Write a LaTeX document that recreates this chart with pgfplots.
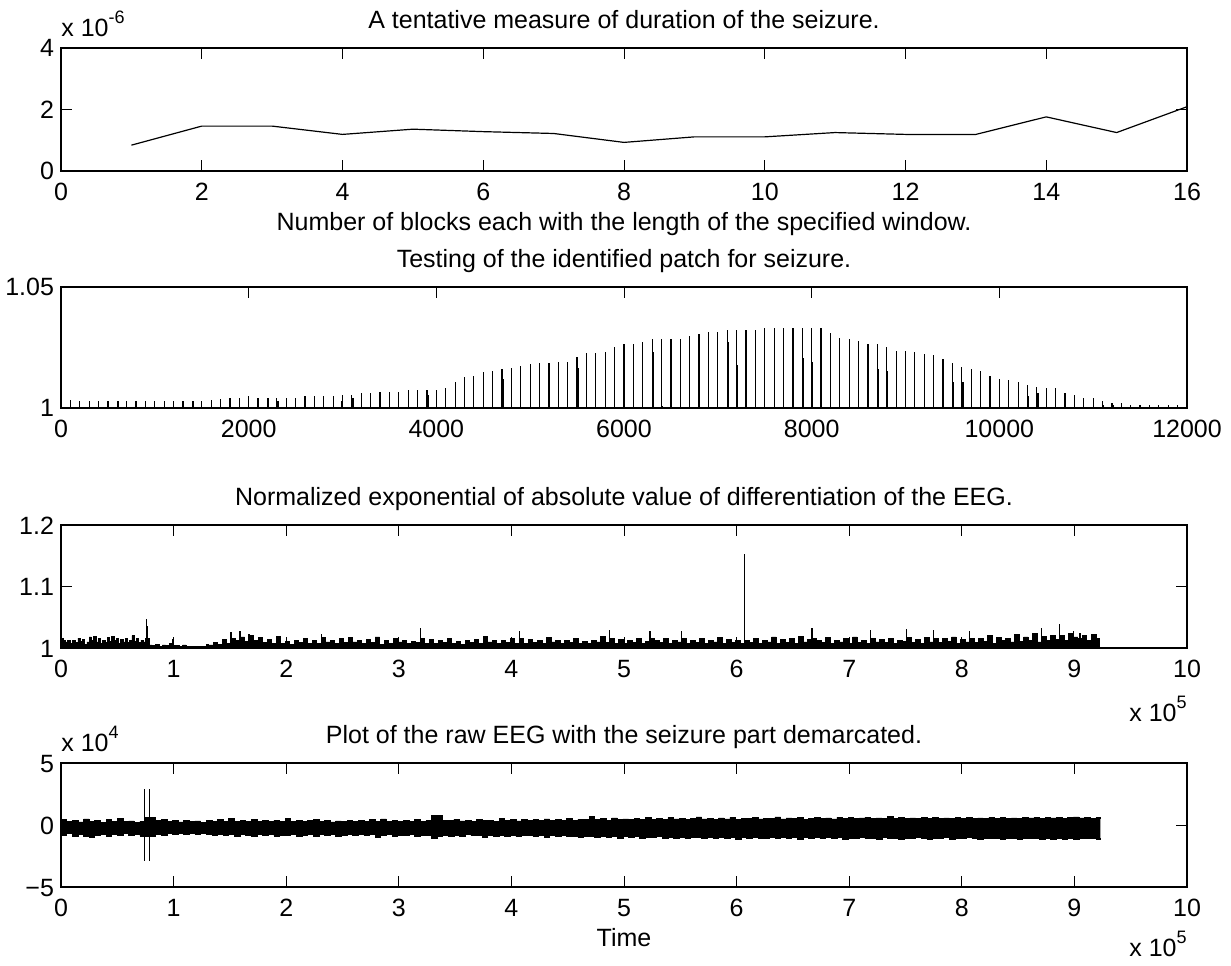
\documentclass[border=0pt]{standalone}
\usepackage{fontspec}
\setmainfont{Liberation Sans}
\usepackage{pgfplots}
\usepackage{pgfplotstable}
\pgfplotsset{compat=1.18}
\usepgfplotslibrary{fillbetween}

\newcommand{\lbl}{\fontsize{12.5}{14}\selectfont}
\newcommand{\sups}[1]{\raisebox{1.0ex}{\fontsize{9}{9}\selectfont #1}}

\pgfplotstableread{
x u lo
0.00 0.45 -0.85
0.05 0.30 -0.70
0.10 0.38 -0.92
0.15 0.25 -0.75
0.20 0.50 -0.88
0.25 0.28 -1.02
0.30 0.35 -0.80
0.35 0.22 -0.72
0.40 0.42 -0.90
0.45 0.30 -0.78
0.50 0.55 -0.85
0.55 0.27 -0.70
0.60 0.33 -0.82
0.65 0.24 -0.76
0.70 0.31 -0.88
0.74 0.60 -0.95
0.79 0.62 -0.90
0.84 0.35 -0.72
0.89 0.48 -0.80
0.94 0.30 -0.68
0.99 0.36 -0.74
1.04 0.25 -0.66
1.09 0.40 -0.78
1.14 0.28 -0.70
1.19 0.33 -0.75
1.24 0.22 -0.64
1.29 0.38 -0.72
1.34 0.30 -0.80
1.39 0.45 -0.76
1.44 0.32 -0.85
1.49 0.52 -0.78
1.54 0.30 -0.90
1.59 0.36 -0.74
1.64 0.28 -0.82
1.69 0.42 -0.95
1.74 0.30 -0.78
1.79 0.35 -0.84
1.84 0.26 -0.72
1.89 0.40 -0.88
1.94 0.31 -0.79
1.99 0.55 -0.86
2.04 0.29 -0.75
2.09 0.38 -0.92
2.14 0.27 -0.80
2.19 0.34 -0.76
2.24 0.45 -0.88
2.29 0.30 -0.74
2.34 0.36 -0.82
2.39 0.25 -0.78
2.44 0.33 -0.95
2.49 0.28 -0.80
2.54 0.40 -0.76
2.59 0.30 -0.86
2.64 0.35 -0.73
2.69 0.27 -0.84
2.74 0.42 -0.78
2.79 0.31 -0.98
2.84 0.50 -0.82
2.89 0.29 -0.75
2.94 0.34 -0.88
2.99 0.26 -0.79
3.04 0.38 -0.84
3.09 0.30 -0.76
3.14 0.44 -0.90
3.19 0.32 -0.80
3.24 0.36 -0.86
3.29 0.80 -1.05
3.34 0.75 -0.95
3.39 0.40 -0.84
3.44 0.35 -0.88
3.49 0.48 -0.80
3.54 0.33 -0.92
3.59 0.38 -0.78
3.64 0.30 -0.86
3.69 0.45 -0.82
3.74 0.34 -0.96
3.79 0.40 -0.80
3.84 0.31 -0.88
3.89 0.52 -0.84
3.94 0.36 -0.90
3.99 0.42 -0.82
4.04 0.33 -0.94
4.09 0.47 -0.85
4.14 0.38 -0.80
4.19 0.43 -0.92
4.24 0.35 -0.86
4.29 0.50 -0.98
4.34 0.37 -0.84
4.39 0.44 -0.90
4.44 0.40 -0.86
4.49 0.55 -0.95
4.54 0.38 -0.88
4.59 0.48 -1.00
4.64 0.42 -0.90
4.69 0.70 -0.95
4.74 0.45 -1.02
4.79 0.52 -0.92
4.84 0.40 -0.98
4.89 0.58 -0.90
4.94 0.44 -1.05
4.99 0.50 -0.95
5.04 0.46 -1.00
5.09 0.55 -0.94
5.14 0.48 -1.08
5.19 0.62 -0.96
5.24 0.45 -1.02
5.29 0.53 -0.95
5.34 0.47 -1.06
5.39 0.60 -0.98
5.44 0.49 -1.04
5.49 0.56 -0.96
5.54 0.46 -1.10
5.59 0.52 -1.00
5.64 0.66 -0.97
5.69 0.50 -1.05
5.74 0.55 -0.98
5.79 0.47 -1.08
5.84 0.58 -1.00
5.89 0.50 -1.04
5.94 0.62 -0.97
5.99 0.48 -1.12
6.04 0.54 -1.00
6.09 0.51 -1.06
6.14 0.60 -0.98
6.19 0.49 -1.05
6.24 0.56 -1.10
6.29 0.52 -1.00
6.34 0.65 -1.04
6.39 0.50 -0.98
6.44 0.57 -1.08
6.49 0.53 -1.02
6.54 0.62 -1.15
6.59 0.48 -1.00
6.64 0.55 -1.06
6.69 0.60 -0.99
6.74 0.52 -1.10
6.79 0.58 -1.03
6.84 0.50 -1.08
6.89 0.64 -1.00
6.94 0.54 -1.12
6.99 0.59 -1.04
7.04 0.51 -1.08
7.09 0.57 -1.00
7.14 0.62 -1.10
7.19 0.53 -1.05
7.24 0.58 -1.14
7.29 0.52 -1.02
7.34 0.70 -1.08
7.39 0.56 -1.04
7.44 0.60 -1.12
7.49 0.54 -1.05
7.54 0.58 -1.10
7.59 0.52 -1.02
7.64 0.63 -1.08
7.69 0.55 -1.15
7.74 0.60 -1.04
7.79 0.53 -1.09
7.84 0.57 -1.02
7.89 0.52 -1.12
7.94 0.62 -1.05
7.99 0.55 -1.10
8.04 0.59 -1.03
8.09 0.54 -1.08
8.14 0.58 -1.14
8.19 0.52 -1.04
8.24 0.64 -1.10
8.29 0.56 -1.06
8.34 0.60 -1.12
8.39 0.53 -1.04
8.44 0.58 -1.09
8.49 0.55 -1.15
8.54 0.62 -1.05
8.59 0.57 -1.10
8.64 0.60 -1.06
8.69 0.54 -1.12
8.74 0.63 -1.08
8.79 0.58 -1.14
8.84 0.61 -1.06
8.89 0.55 -1.16
8.94 0.60 -1.08
8.99 0.65 -1.12
9.04 0.57 -1.06
9.09 0.62 -1.10
9.14 0.56 -1.08
9.19 0.60 -1.12
9.23 0.55 -1.05
}\eeg

\pgfplotstableread{
x y
0.00 1.016
0.02 1.013
0.04 1.010
0.06 1.013
0.08 1.008
0.10 1.012
0.13 1.009
0.15 1.016
0.17 1.011
0.19 1.014
0.21 1.006
0.23 1.010
0.25 1.018
0.27 1.012
0.29 1.019
0.31 1.010
0.33 1.015
0.35 1.008
0.37 1.013
0.39 1.009
0.41 1.017
0.43 1.011
0.45 1.019
0.47 1.012
0.49 1.015
0.51 1.008
0.53 1.014
0.55 1.010
0.57 1.016
0.59 1.009
0.61 1.012
0.63 1.020
0.65 1.011
0.67 1.015
0.69 1.009
0.71 1.013
0.73 1.010
0.75 1.016
0.78 1.005
0.81 1.004
0.84 1.006
0.87 1.003
0.90 1.005
0.93 1.004
0.96 1.007
0.99 1.004
1.02 1.004
1.05 1.003
1.08 1.005
1.11 1.002
1.14 1.003
1.17 1.002
1.20 1.003
1.23 1.002
1.26 1.003
1.29 1.006
1.31 1.005
1.35 1.009
1.39 1.006
1.43 1.014
1.47 1.008
1.51 1.016
1.55 1.012
1.59 1.018
1.63 1.011
1.67 1.020
1.71 1.013
1.75 1.017
1.79 1.009
1.83 1.014
1.87 1.008
1.91 1.019
1.95 1.007
1.99 1.011
2.03 1.006
2.07 1.013
2.11 1.009
2.15 1.016
2.19 1.008
2.23 1.012
2.27 1.007
2.31 1.017
2.35 1.010
2.39 1.013
2.43 1.008
2.47 1.015
2.51 1.009
2.55 1.017
2.59 1.010
2.63 1.012
2.67 1.007
2.71 1.014
2.75 1.009
2.79 1.018
2.83 1.006
2.87 1.012
2.91 1.008
2.95 1.015
2.99 1.010
3.03 1.013
3.07 1.007
3.11 1.011
3.15 1.009
3.19 1.016
3.23 1.008
3.27 1.014
3.31 1.007
3.35 1.013
3.39 1.009
3.43 1.016
3.47 1.008
3.51 1.011
3.55 1.006
3.59 1.012
3.63 1.009
3.67 1.014
3.71 1.008
3.75 1.019
3.79 1.010
3.83 1.013
3.87 1.007
3.91 1.012
3.95 1.009
3.99 1.015
4.03 1.008
4.07 1.016
4.11 1.007
4.15 1.014
4.19 1.009
4.23 1.012
4.27 1.008
4.31 1.017
4.35 1.010
4.39 1.013
4.43 1.007
4.47 1.012
4.51 1.009
4.55 1.015
4.59 1.008
4.63 1.011
4.67 1.007
4.71 1.013
4.75 1.010
4.79 1.019
4.83 1.009
4.87 1.015
4.91 1.008
4.95 1.014
4.99 1.007
5.03 1.012
5.07 1.009
5.11 1.016
5.15 1.008
5.19 1.011
5.23 1.015
5.27 1.013
5.31 1.009
5.35 1.015
5.39 1.008
5.43 1.012
5.47 1.010
5.51 1.016
5.55 1.007
5.59 1.013
5.63 1.009
5.67 1.016
5.71 1.008
5.75 1.012
5.79 1.010
5.83 1.017
5.87 1.007
5.91 1.014
5.95 1.009
5.99 1.013
6.03 1.008
6.07 1.012
6.11 1.009
6.15 1.016
6.19 1.008
6.23 1.013
6.27 1.010
6.31 1.018
6.35 1.007
6.39 1.014
6.43 1.009
6.47 1.015
6.51 1.008
6.55 1.019
6.59 1.010
6.63 1.014
6.67 1.016
6.71 1.012
6.75 1.009
6.79 1.017
6.83 1.008
6.87 1.013
6.91 1.010
6.95 1.015
6.99 1.008
7.03 1.018
7.07 1.009
7.11 1.013
7.15 1.007
7.19 1.016
7.23 1.010
7.27 1.014
7.31 1.009
7.35 1.016
7.39 1.008
7.43 1.013
7.47 1.011
7.51 1.017
7.55 1.009
7.59 1.014
7.63 1.008
7.67 1.017
7.71 1.010
7.75 1.016
7.79 1.009
7.83 1.015
7.87 1.011
7.91 1.018
7.95 1.008
7.99 1.014
8.03 1.010
8.07 1.016
8.11 1.009
8.15 1.016
8.19 1.011
8.23 1.020
8.27 1.008
8.31 1.017
8.35 1.012
8.39 1.015
8.43 1.010
8.47 1.022
8.51 1.011
8.55 1.018
8.59 1.013
8.63 1.024
8.67 1.010
8.71 1.019
8.75 1.012
8.79 1.021
8.83 1.014
8.87 1.020
8.91 1.013
8.95 1.024
8.99 1.018
9.03 1.015
9.07 1.020
9.11 1.012
9.15 1.022
9.19 1.016
9.22 1.016
}\nexp

\pgfplotsset{
  mat/.style={
    scale only axis,
    width=563pt,
    anchor=south west,
    clip mode=individual,
    axis line style={line width=0.6pt},
    every tick/.style={black, line width=0.5pt},
    major tick length=5.5pt,
    tick align=inside,
    xtick pos=both, ytick pos=both,
    tick label style={font=\lbl, text height=9pt, text depth=0pt},
    xticklabel style={yshift=-2pt},
    every axis title shift=0pt,
    title style={font=\lbl, at={(0.5,1)}, anchor=base, yshift=9.6pt},
    xlabel style={font=\lbl, at={(0.5,0)}, anchor=base, yshift=-29.9pt},
    /pgf/number format/assume math mode=true,
    /pgf/number format/set thousands separator={},
    scaled ticks=false,
    cycle list={{black, line width=0.5pt}},
  }
}

\begin{document}
\begin{tikzpicture}

% ---------- Axis 1 ----------
\begin{axis}[mat, at={(30.5pt,397pt)}, height=61.5pt,
  xmin=0, xmax=16, ymin=0, ymax=4,
  xtick={0,2,...,16}, ytick={0,2,4},
  title={A tentative measure of duration of the seizure.},
  xlabel={Number of blocks each with the length of the specified window.}]
\addplot[black, line width=0.6pt] coordinates {
(1,0.84) (2,1.46) (3,1.46) (4,1.19) (5,1.36) (6,1.28) (7,1.22) (8,0.93)
(9,1.11) (10,1.11) (11,1.25) (12,1.19) (13,1.19) (14,1.76) (15,1.25) (16,2.09)};
\node[font=\lbl, anchor=base west, inner sep=0pt] at (rel axis cs:0,1) [yshift=5.6pt] {x 10\sups{-6}};
\end{axis}

% ---------- Axis 2 ----------
\begin{axis}[mat, at={(30.5pt,278.5pt)}, height=60.5pt,
  xmin=0, xmax=12000, ymin=1, ymax=1.05,
  xtick={0,2000,...,12000}, ytick={1,1.05},
  yticklabels={1,1.05},
  title={Testing of the identified patch for seizure.}]
\addplot[ycomb, black, line width=0.6pt, mark=none] coordinates {
(100,1.0034) (200,1.0027) (300,1.0027) (400,1.0027) (500,1.0027) (600,1.0027)
(700,1.0027) (800,1.0027) (900,1.0027) (1000,1.0027) (1100,1.0027) (1200,1.0027)
(1300,1.0027) (1400,1.0027) (1500,1.0027) (1600,1.0034) (1700,1.0038) (1800,1.0041)
(1900,1.0041) (2000,1.0048) (2100,1.0041) (2200,1.0041) (2300,1.0041) (2400,1.0041)
(2500,1.0041) (2600,1.0048) (2700,1.0048) (2800,1.0048) (2900,1.0048) (3000,1.0055)
(3100,1.0055) (3200,1.0062) (3300,1.0062) (3400,1.0068) (3500,1.0068) (3600,1.0068)
(3700,1.0075) (3800,1.0075) (3900,1.0075) (4000,1.0075) (4100,1.0082) (4200,1.0107)
(4300,1.0127) (4400,1.0133) (4500,1.0147) (4600,1.0153) (4700,1.0160) (4800,1.0167)
(4900,1.0174) (5000,1.0181) (5100,1.0185) (5200,1.0185) (5300,1.0192) (5400,1.0192)
(5500,1.0212) (5600,1.0226) (5700,1.0226) (5800,1.0233) (5900,1.0251) (6000,1.0264)
(6100,1.0264) (6200,1.0271) (6300,1.0284) (6400,1.0284) (6500,1.0284) (6600,1.0284)
(6700,1.0297) (6800,1.0304) (6900,1.0316) (7000,1.0316) (7100,1.0323) (7200,1.0323)
(7300,1.0323) (7400,1.0323) (7500,1.0329) (7600,1.0329) (7700,1.0329) (7800,1.0329)
(7900,1.0329) (8000,1.0329) (8100,1.0329) (8200,1.0310) (8300,1.0290) (8400,1.0284)
(8500,1.0277) (8600,1.0264) (8700,1.0264) (8800,1.0251) (8900,1.0237) (9000,1.0237)
(9100,1.0232) (9200,1.0225) (9300,1.0218) (9400,1.0204) (9500,1.0185) (9600,1.0171)
(9700,1.0160) (9800,1.0153) (9900,1.0133) (10000,1.0121) (10100,1.0114) (10200,1.0107)
(10300,1.0093) (10400,1.0086) (10500,1.0081) (10600,1.0081) (10700,1.0060) (10800,1.0053)
(10900,1.0041) (11000,1.0041) (11100,1.0027) (11200,1.0021) (11300,1.0021) (11400,1.0014)
(11500,1.0014) (11600,1.0014) (11700,1.0014) (11800,1.0014) (11900,1.0014) (12000,1.0007)};
\addplot[ycomb, black, line width=0.6pt, mark=none] coordinates {
(612,1.0027) (1412,1.0027) (2212,1.0041) (2312,1.0027) (2990,1.0027) (3112,1.0041)
(3912,1.0055) (4712,1.0119) (5512,1.0164) (6312,1.0233) (6412,1.0007) (7112,1.0271)
(7212,1.0178) (7912,1.0205) (8012,1.0192) (8712,1.0160) (8812,1.0153) (9512,1.0107)
(9612,1.0107) (10312,1.0048) (10412,1.0062) (11112,1.0014) (11212,1.0014)};
\end{axis}

% ---------- Axis 3 ----------
\begin{axis}[mat, at={(30.5pt,158.5pt)}, height=61.5pt,
  xmin=0, xmax=10, ymin=1, ymax=1.2,
  xtick={0,1,...,10}, ytick={1,1.1,1.2},
  yticklabels={1,1.1,1.2},
  title={Normalized exponential of absolute value of differentiation of the EEG.}]
\addplot[const plot, black, fill=black, line width=0.3pt] table[x=x,y=y] {\nexp} \closedcycle;
\addplot[ycomb, black, line width=0.6pt, mark=none] coordinates {
(0.005,1.028) (0.757,1.047) (0.765,1.036) (0.99,1.015) (1.51,1.026) (1.59,1.028)
(1.67,1.022) (2.31,1.022) (3.19,1.033) (4.07,1.028) (4.87,1.029) (5.23,1.028)
(5.51,1.027) (6.07,1.1536) (6.67,1.033) (7.19,1.030) (7.51,1.031) (7.75,1.029)
(8.07,1.028) (8.71,1.033) (8.87,1.039) (8.99,1.028) (9.05,1.025)};
\addplot[black, line width=0.5pt] coordinates {(9.22,1) (10,1)};
\node[font=\lbl, anchor=base east, inner sep=0pt] at (rel axis cs:1,0) [yshift=-36.9pt] {x 10\sups{5}};
\end{axis}

% ---------- Axis 4 ----------
\begin{axis}[mat, at={(30.5pt,39pt)}, height=62pt,
  xmin=0, xmax=10, ymin=-5, ymax=5,
  xtick={0,1,...,10}, ytick={-5,0,5},
  yticklabels={−5,0,5},
  title={Plot of the raw EEG with the seizure part demarcated.},
  xlabel={Time}]
\addplot[const plot, name path=up, black, line width=0.3pt] table[x=x,y=u] {\eeg};
\addplot[const plot, name path=dn, black, line width=0.3pt] table[x=x,y=lo] {\eeg};
\addplot[black] fill between[of=up and dn];
\addplot[black, line width=0.5pt] coordinates {(0.74,-2.9) (0.74,2.9)};
\addplot[black, line width=0.5pt] coordinates {(0.785,-2.9) (0.785,2.9)};
\node[font=\lbl, anchor=base west, inner sep=0pt] at (rel axis cs:0,1) [yshift=5.6pt] {x 10\sups{4}};
\node[font=\lbl, anchor=base east, inner sep=0pt] at (rel axis cs:1,0) [yshift=-34.9pt] {x 10\sups{5}};
\end{axis}

\pgfresetboundingbox
\path (0,0) rectangle (615.5pt,482.5pt);
\end{tikzpicture}
\end{document}
